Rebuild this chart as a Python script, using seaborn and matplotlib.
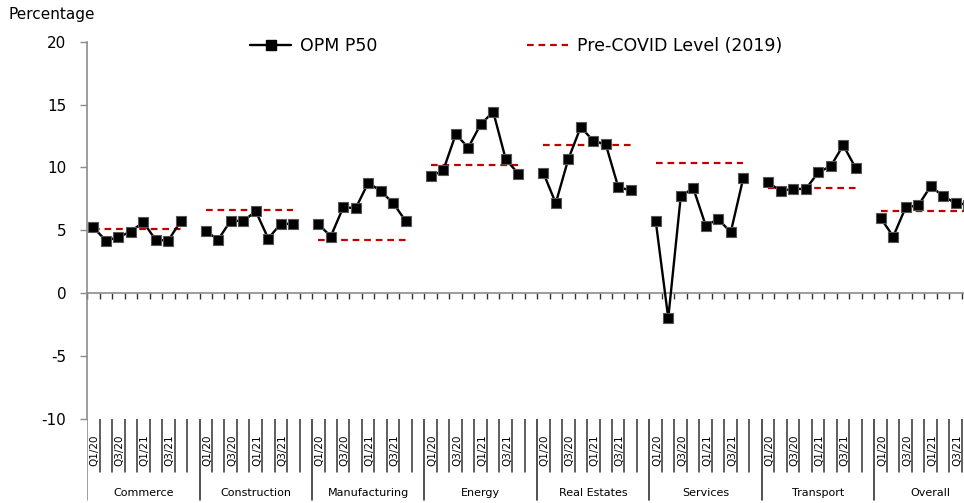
import numpy as np
import pandas as pd
import matplotlib.pyplot as plt
from matplotlib.lines import Line2D
import seaborn as sns

sns.set_style("white")
plt.rcParams['font.family'] = ['DejaVu Sans']
plt.rcParams['axes.unicode_minus'] = False
plt.rcParams['text.color'] = 'black'
plt.rcParams['ytick.labelcolor'] = 'black'

# datos --------------------------------------------------------------------
sectors = ['Commerce', 'Construction', 'Manufacturing', 'Energy',
           'Real Estates', 'Services', 'Transport', 'Overall']
quarters = ['Q1/20', 'Q2/20', 'Q3/20', 'Q4/20', 'Q1/21', 'Q2/21', 'Q3/21', 'Q4/21']
quarter_labels = ['Q1/20', '', 'Q3/20', '', 'Q1/21', '', 'Q3/21', '', '']

commerce = [5.25, 4.19, 4.45, 4.90, 5.65, 4.24, 4.19, 5.73]
construction = [4.93, 4.27, 5.78, 5.73, 6.52, 4.35, 5.52, 5.52]
manufacturing = [5.52, 4.51, 6.84, 6.76, 8.79, 8.12, 7.16, 5.73]
energy = [9.29, 9.77, 12.64, 11.58, 13.44, 14.42, 10.65, 9.51]
real_estates = [9.59, 7.16, 10.65, 13.22, 12.11, 11.84, 8.44, 8.17]
services = [5.73, -1.98, 7.70, 8.36, 5.38, 5.89, 4.85, 9.15]
transport = [8.81, 8.12, 8.31, 8.28, 9.61, 10.11, 11.76, 9.95]
overall = [5.97, 4.51, 6.84, 6.98, 8.52, 7.70, 7.16, 7.05]

pre_covid = [5.12, 6.58, 4.21, 10.17, 11.76, 10.35, 8.33, 6.52]

opm = [commerce, construction, manufacturing, energy,
       real_estates, services, transport, overall]

slots = len(quarters) + 1  # un hueco vacio despues de cada sector
rows = []
for g, s in enumerate(sectors):
    for j, q in enumerate(quarters):
        rows.append({'sector': s, 'quarter': q, 'pos': g * slots + j,
                     'opm': opm[g][j], 'level': pre_covid[g]})
df = pd.DataFrame(rows)
n_slots = slots * len(sectors)

# figura -------------------------------------------------------------------
W, H = 964, 503
fig = plt.figure(figsize=(W / 100, H / 100), dpi=100)
x0, x1 = 87, 87 + 12.5 * n_slots
y_top, y_bot = 41.7, 419
ax = fig.add_axes([x0 / W, (H - y_bot) / H, (x1 - x0) / W, (y_bot - y_top) / H])

sns.lineplot(data=df, x='pos', y='level', units='sector', estimator=None,
             color='#C00000', linewidth=1.6, linestyle=(0, (3, 2.2)),
             ax=ax, legend=False, zorder=2)
sns.lineplot(data=df, x='pos', y='opm', units='sector', estimator=None,
             color='black', linewidth=1.7, marker='s', markersize=6.5,
             markeredgecolor='#555555', markeredgewidth=0.8,
             ax=ax, legend=False, zorder=3)

ax.set_xlim(-0.5, n_slots - 0.5)
ax.set_ylim(-10, 20)
ax.set_yticks(range(-10, 21, 5))
ax.set_xticks(np.arange(-0.5, n_slots, 1))
ax.set_xticklabels([])
ax.set_xlabel('')
ax.set_ylabel('')
ax.spines['bottom'].set_position(('data', 0))
for sp in ['top', 'right']:
    ax.spines[sp].set_visible(False)
for sp in ['left', 'bottom']:
    ax.spines[sp].set_color('#8c8c8c')
    ax.spines[sp].set_linewidth(1.2)
ax.tick_params(axis='y', left=True, length=5, width=1, color='#8c8c8c',
               labelsize=11, pad=10, labelcolor='black')
ax.tick_params(axis='x', bottom=True, length=4, width=1, color='#333333',
               direction='out')

# zona de etiquetas de categorias -----------------------------------------
axl = fig.add_axes([x0 / W, 0, (x1 - x0) / W, (H - y_bot) / H])
axl.set_xlim(-0.5, n_slots - 0.5)
axl.set_ylim(0, H - y_bot)
axl.axis('off')
for k in range(n_slots + 1):
    xb = k - 0.5
    if k % slots == 0:
        axl.plot([xb, xb], [H - y_bot, 3], color='#333333' if k else '#8c8c8c', lw=1.2)
    else:
        axl.plot([xb, xb], [H - y_bot, H - 472], color='#333333', lw=1.1)
for g, s in enumerate(sectors):
    for j, lab in enumerate(quarter_labels):
        if lab:
            axl.text(g * slots + j + 0.1, H - 450, lab, rotation=90,
                     ha='center', va='center', fontsize=7.5)
    axl.text(g * slots + 4, H - 493, s, ha='center', va='center', fontsize=8)

# leyenda y titulo del eje ------------------------------------------------
handles = [Line2D([], [], color='black', lw=1.7, marker='s', markersize=6.5),
           Line2D([], [], color='#C00000', lw=1.6, linestyle=(0, (3, 2.2)))]
fig.legend(handles, ['OPM P50', 'Pre-COVID Level (2019)'], ncol=2,
           loc='center', bbox_to_anchor=(516 / W, 1 - 46 / H), frameon=False,
           fontsize=12.5, handlelength=2.4, handletextpad=0.5, columnspacing=8.6)
fig.text(8 / W, 1 - 14 / H, 'Percentage', fontsize=11, va='center', ha='left')

fig.savefig('out.png', dpi=100)
